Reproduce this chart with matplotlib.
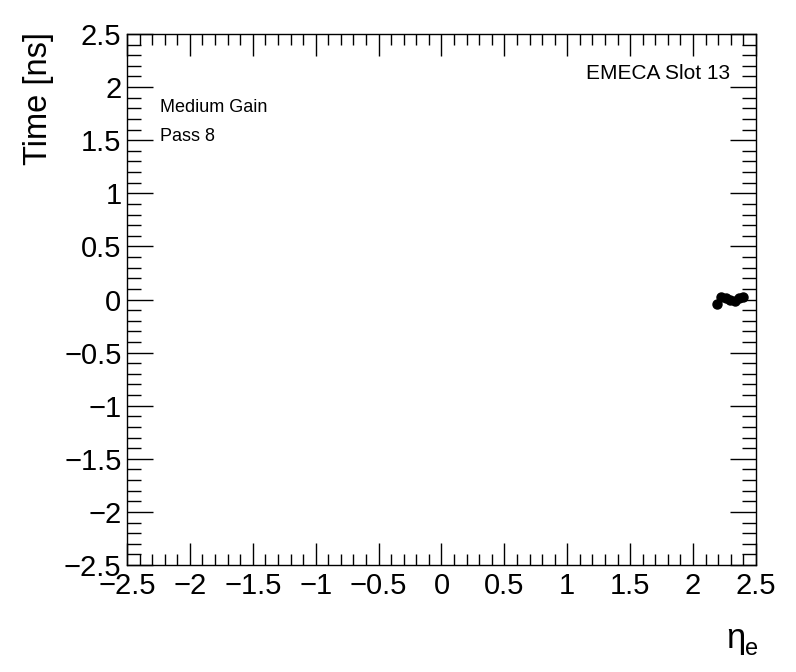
import numpy as np
import matplotlib
matplotlib.use("Agg")
import matplotlib.pyplot as plt
from matplotlib.ticker import MultipleLocator

plt.rcParams['font.family'] = ['Liberation Sans', 'DejaVu Sans']

# cell eta and average time (ns)
eta = [2.19, 2.225, 2.26, 2.295, 2.33, 2.365, 2.40]
time_ns = [-0.04, 0.02, 0.01, 0.00, -0.01, 0.01, 0.02]

fig = plt.figure(figsize=(7.96, 6.72), dpi=100)
ax = fig.add_axes([0.1595, 0.1592, 0.7902, 0.7902])

ax.plot(eta, time_ns, 'o', color='black', markersize=6.5)

ax.set_xlim(-2.5, 2.5)
ax.set_ylim(-2.5, 2.5)
ax.xaxis.set_major_locator(MultipleLocator(0.5))
ax.xaxis.set_minor_locator(MultipleLocator(0.1))
ax.yaxis.set_major_locator(MultipleLocator(0.5))
ax.yaxis.set_minor_locator(MultipleLocator(0.1))

def fmt(v, pos):
    s = ('%g' % v).replace('-', '\u2212')
    return s
ax.xaxis.set_major_formatter(plt.FuncFormatter(fmt))
ax.yaxis.set_major_formatter(plt.FuncFormatter(fmt))

ax.tick_params(which='both', direction='in', top=True, right=True, labelsize=21, width=1)
ax.tick_params(axis='x', which='major', length=16, pad=5)
ax.tick_params(axis='x', which='minor', length=8)
ax.tick_params(axis='y', which='major', length=19, pad=4)
ax.tick_params(axis='y', which='minor', length=10)
for s in ax.spines.values():
    s.set_linewidth(1)

fig.text(0.048, 0.953, 'Time [ns]', rotation=90, fontsize=23.5, ha='center', va='top')
# upright eta with subscript e, ROOT style
fig.text(0.937, 0.025, '\u03b7', fontsize=25, ha='right', va='bottom')
fig.text(0.936, 0.018, 'e', fontsize=17, ha='left', va='bottom')

ax.text(0.052, 0.862, 'Medium Gain', transform=ax.transAxes, fontsize=13, va='center')
ax.text(0.052, 0.807, 'Pass 8', transform=ax.transAxes, fontsize=13, va='center')
ax.text(0.959, 0.925, 'EMECA Slot 13', transform=ax.transAxes, fontsize=15, ha='right', va='center')

fig.savefig('out.png', dpi=100)
